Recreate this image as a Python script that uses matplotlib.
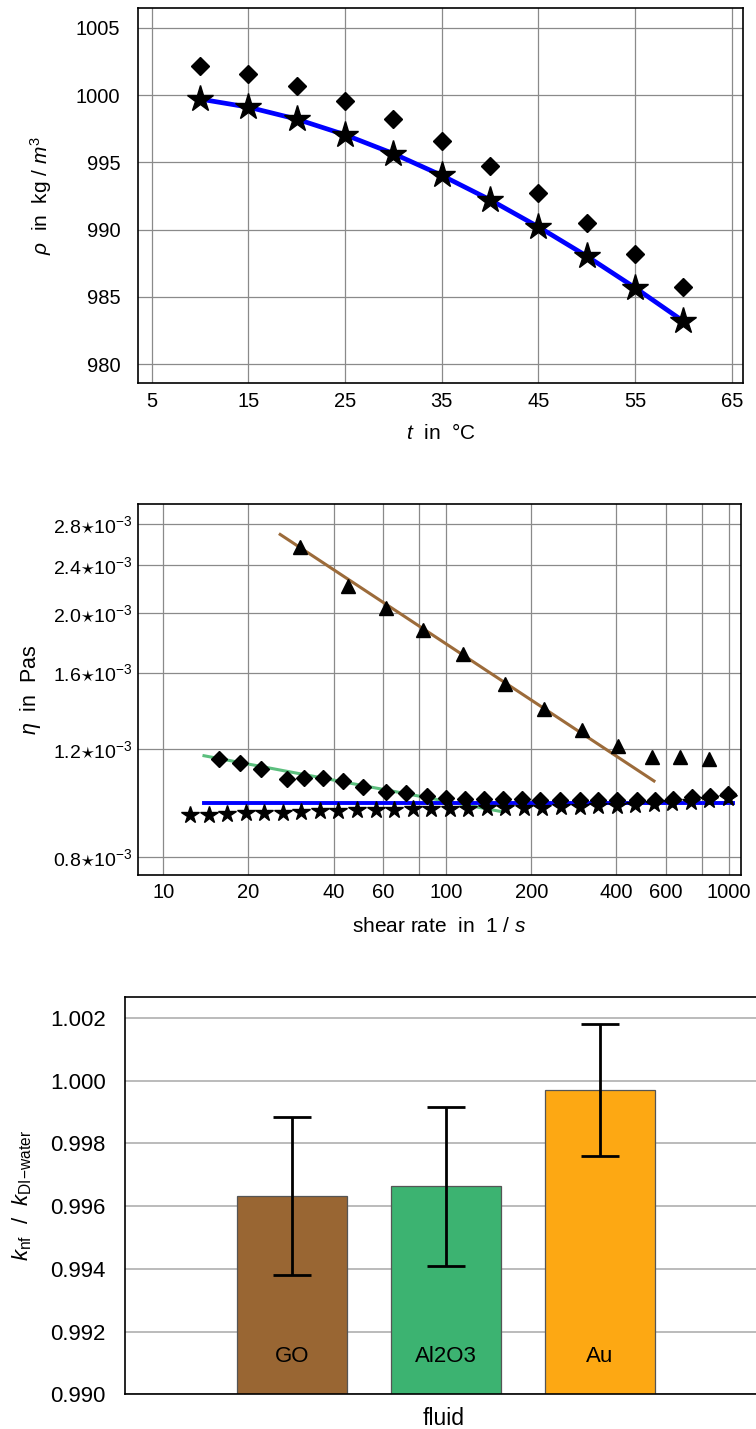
import matplotlib
matplotlib.use("Agg")
import matplotlib.pyplot as plt
from matplotlib.ticker import FixedLocator, NullLocator, FixedFormatter

plt.rcParams['font.family'] = ['Liberation Sans', 'DejaVu Sans']
plt.rcParams['mathtext.fontset'] = 'custom'
plt.rcParams['mathtext.rm'] = 'Liberation Sans'
plt.rcParams['mathtext.it'] = 'Liberation Sans:italic'
plt.rcParams['mathtext.bf'] = 'Liberation Sans:bold'

# ---------------- data: density vs temperature ----------------
temp_c = [10, 15, 20, 25, 30, 35, 40, 45, 50, 55, 60]
rho_diamond = [1002.18, 1001.56, 1000.67, 999.58, 998.2, 996.6, 994.76, 992.7, 990.52, 988.2, 985.73]
rho_star = [999.70, 999.10, 998.21, 997.05, 995.65, 994.03, 992.22, 990.21, 988.04, 985.69, 983.20]
temp_ticks = [5, 15, 25, 35, 45, 55, 65]
rho_ticks = [980, 985, 990, 995, 1000, 1005]

# ---------------- data: viscosity vs shear rate ----------------
tri_rate = [30.4, 44.9, 61.1, 83.0, 114.5, 161.6, 222.4, 303.0, 404.5, 533.0, 671.0, 852.0]
tri_eta = [2.57e-3, 2.216e-3, 2.037e-3, 1.877e-3, 1.715e-3, 1.531e-3, 1.395e-3,
           1.289e-3, 1.214e-3, 1.166e-3, 1.166e-3, 1.155e-3]
dia_rate = [15.8, 18.67, 22.1, 27.3, 31.4, 36.8, 43.1, 50.9, 61.3, 72.2, 85.4, 99.9,
            116.7, 136.1, 158.5, 185.1, 214.8, 252.8, 297.4, 344.4, 401.1, 472.0,
            548.0, 636.0, 739.0, 857.6, 995.0]
dia_eta = [1.156e-3, 1.140e-3, 1.114e-3, 1.071e-3, 1.075e-3, 1.075e-3, 1.064e-3, 1.042e-3,
           1.020e-3, 1.016e-3, 1.007e-3, 0.997e-3, 0.994e-3, 0.994e-3, 0.994e-3, 0.994e-3,
           0.991e-3, 0.991e-3, 0.991e-3, 0.991e-3, 0.991e-3, 0.991e-3, 0.991e-3, 0.994e-3,
           1.000e-3, 1.006e-3, 1.013e-3]
star_rate = [12.43, 14.46, 16.81, 19.55, 22.74, 26.45, 30.76, 35.77, 41.6, 48.38,
             56.27, 65.44, 76.11, 88.51, 102.9, 119.7, 139.2, 161.9, 188.3, 219.0,
             254.7, 296.2, 344.5, 400.7, 466.0, 541.9, 630.3, 733.0, 852.5, 991.4]
star_eta = [0.936e-3, 0.936e-3, 0.940e-3, 0.942e-3, 0.943e-3, 0.945e-3, 0.947e-3, 0.949e-3,
            0.951e-3, 0.953e-3, 0.954e-3, 0.954e-3, 0.956e-3, 0.956e-3, 0.958e-3, 0.958e-3,
            0.960e-3, 0.960e-3, 0.961e-3, 0.961e-3, 0.965e-3, 0.966e-3, 0.968e-3, 0.970e-3,
            0.972e-3, 0.976e-3, 0.980e-3, 0.983e-3, 0.991e-3, 0.998e-3]
fit_go_rate = [25.9, 543.0]
fit_go_eta = [2.69e-3, 1.064e-3]
fit_al_rate = [13.93, 157.3]
fit_al_eta = [1.170e-3, 0.948e-3]
fit_w_rate = [13.93, 1030.0]
fit_w_eta = [0.978e-3, 0.978e-3]
rate_ticks = [10, 20, 40, 60, 100, 200, 400, 600, 1000]
rate_minor = [80, 800]
eta_ticks = [0.8e-3, 1.2e-3, 1.6e-3, 2.0e-3, 2.4e-3, 2.8e-3]
eta_tick_labels = ["0.8", "1.2", "1.6", "2.0", "2.4", "2.8"]

# ---------------- data: thermal conductivity ratio ----------------
fluids = ["GO", "Al2O3", "Au"]
k_ratio = [0.99632, 0.99663, 0.99970]
k_err = [0.00252, 0.00254, 0.00210]
k_ticks = [0.990, 0.992, 0.994, 0.996, 0.998, 1.000, 1.002]
bar_colors = ["#996633", "#3cb371", "#fda813"]

W, H = 756, 1429
fig = plt.figure(figsize=(W / 100, H / 100), dpi=100)

def frac(left, top, right, bottom):
    return [left / W, 1 - bottom / H, (right - left) / W, (bottom - top) / H]

grid_kw = dict(color="#8a8a8a", linewidth=0.9)

# ---------------- top panel ----------------
ax1 = fig.add_axes(frac(138.3, 8.3, 743.3, 383.3))
ax1.plot(temp_c, rho_star, color="#0000ff", linewidth=3.4, zorder=2)
ax1.plot(temp_c, rho_diamond, linestyle="none", marker="D", markersize=9.5,
         color="black", zorder=3)
ax1.plot(temp_c, rho_star, linestyle="none", marker="*", markersize=20,
         color="black", zorder=4)
ax1.set_xlim(3.62, 66.2)
ax1.set_ylim(978.59, 1006.44)
ax1.set_xticks(temp_ticks)
ax1.set_yticks(rho_ticks)
ax1.grid(True, **grid_kw)
ax1.set_axisbelow(True)
ax1.tick_params(length=0, labelsize=14.5)
ax1.tick_params(axis="y", pad=13)
ax1.tick_params(axis="x", pad=6)
ax1.set_xlabel(r"$t$  in  °C", fontsize=15)
ax1.xaxis.set_label_coords(0.5, -0.106)
ax1.set_ylabel(r"$\rho$  in  kg / $m^3$", fontsize=15)
ax1.yaxis.set_label_coords(-0.139, 0.5)
for s in ax1.spines.values():
    s.set_linewidth(1.2)

# ---------------- middle panel ----------------
ax2 = fig.add_axes(frac(138.3, 504.3, 741, 875))
ax2.set_xscale("log")
ax2.set_yscale("log")
ax2.plot(fit_go_rate, fit_go_eta, color="#9c6b3a", linewidth=2.2, zorder=2)
ax2.plot(fit_al_rate, fit_al_eta, color="#5cbf7e", linewidth=2.2, zorder=2)
ax2.plot(fit_w_rate, fit_w_eta, color="#0000ff", linewidth=2.8, zorder=2)
ax2.plot(tri_rate, tri_eta, linestyle="none", marker="^", markersize=10.5,
         color="black", zorder=3)
ax2.plot(dia_rate, dia_eta, linestyle="none", marker="D", markersize=8,
         color="black", zorder=3)
ax2.plot(star_rate, star_eta, linestyle="none", marker="*", markersize=13,
         color="black", zorder=4)
ax2.set_xlim(8.16, 1102.6)
ax2.set_ylim(7.47e-4, 3.013e-3)
ax2.xaxis.set_major_locator(FixedLocator(rate_ticks))
ax2.xaxis.set_major_formatter(FixedFormatter([str(v) for v in rate_ticks]))
ax2.xaxis.set_minor_locator(FixedLocator(rate_minor))
ax2.xaxis.set_minor_formatter(FixedFormatter(["", ""]))
ax2.yaxis.set_major_locator(FixedLocator(eta_ticks))
ax2.yaxis.set_major_formatter(FixedFormatter(
    [r"$%s{\star}10^{-3}$" % m for m in eta_tick_labels]))
ax2.yaxis.set_minor_locator(NullLocator())
ax2.grid(True, which="both", **grid_kw)
ax2.set_axisbelow(True)
ax2.tick_params(which="both", length=0)
ax2.tick_params(axis="x", labelsize=14.5, pad=6)
ax2.tick_params(axis="y", labelsize=14, pad=4)
ax2.set_xlabel(r"shear rate  in  1 / $s$", fontsize=15)
ax2.xaxis.set_label_coords(0.5, -0.114)
ax2.set_ylabel(r"$\eta$  in  Pas", fontsize=15.5)
ax2.yaxis.set_label_coords(-0.158, 0.5)
for s in ax2.spines.values():
    s.set_linewidth(1.2)

# ---------------- bottom panel ----------------
ax3 = fig.add_axes(frac(125, 997, 767, 1394.3))
xpos = list(range(1, len(fluids) + 1))
ax3.bar(xpos, k_ratio, width=0.714, bottom=0, color=bar_colors,
        edgecolor="#555555", linewidth=0.9, zorder=2)
ax3.errorbar(xpos, k_ratio, yerr=k_err, fmt="none", ecolor="black",
             elinewidth=2, capsize=14, capthick=2, zorder=3)
for xp, name in zip(xpos, fluids):
    ax3.text(xp, 0.9912, name, ha="center", va="center", fontsize=16, zorder=4)
ax3.set_xlim(-0.084, 4.084)
ax3.set_ylim(0.990, 1.00267)
ax3.set_xticks([])
ax3.set_yticks(k_ticks)
ax3.set_yticklabels(["%.3f" % v for v in k_ticks])
ax3.yaxis.grid(True, color="#bbbbbb", linewidth=1.4)
ax3.set_axisbelow(True)
ax3.tick_params(length=0, labelsize=16, pad=14)
ax3.spines["right"].set_visible(False)
for s in ["left", "top", "bottom"]:
    ax3.spines[s].set_linewidth(1.2)
ax3.set_xlabel("fluid", fontsize=16.5)
ax3.xaxis.set_label_coords(0.497, -0.031)
ax3.set_ylabel(r"$k_{\mathrm{nf}}$  /  $k_{\mathrm{DI{-}water}}$", fontsize=16)
ax3.yaxis.set_label_coords(-0.142, 0.5)

fig.savefig("out.png", dpi=100)
